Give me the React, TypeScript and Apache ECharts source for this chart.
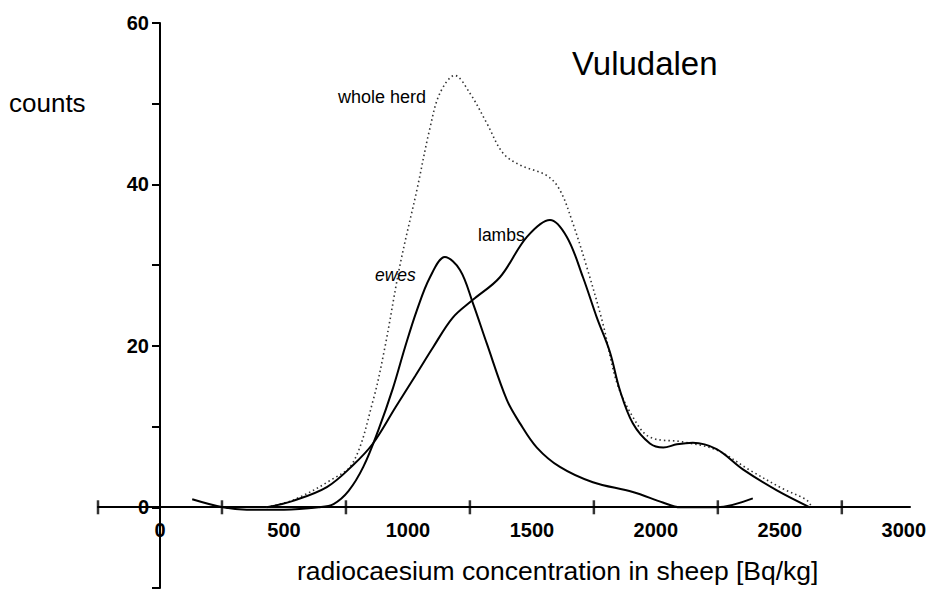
import React, { useEffect, useRef } from "react";
import * as echarts from "echarts";

// x: radiocaesium concentration [Bq/kg], y: counts
const wholeHerd: [number, number][] = [
  [430, 0], [537, 0.9], [685, 3.3], [778, 5.5], [860, 13.3], [907, 19.8], [968, 30],
  [1036, 39.3], [1089, 47], [1129, 51.3], [1189, 53.5], [1250, 51.3], [1318, 47.6],
  [1383, 43.9], [1452, 42.4], [1560, 41.1], [1613, 39.3], [1665, 35.2], [1722, 29.7],
  [1786, 22.8], [1843, 15.4], [1907, 11.2], [1975, 8.7], [2109, 8.1], [2245, 7.1],
  [2379, 4.6], [2512, 2.3], [2608, 0.9], [2629, 0],
];

const lambs: [number, number][] = [
  [430, 0], [537, 0.8], [673, 2.5], [778, 5.2], [859, 7.9], [950, 12.4], [1030, 16.3],
  [1101, 19.8], [1181, 23.5], [1262, 25.7], [1371, 28.5], [1480, 33.5], [1573, 35.6],
  [1641, 33.5], [1706, 28.5], [1762, 23.5], [1814, 19.3], [1855, 14.5], [1907, 10.4],
  [1976, 7.9], [2030, 7.4], [2085, 7.8], [2149, 8.0], [2245, 7.2], [2351, 4.7],
  [2488, 2.1], [2621, 0],
];

const ewes: [number, number][] = [
  [130, 1.0], [254, 0], [350, -0.3], [500, -0.3], [640, 0], [700, 0.4], [760, 2],
  [820, 5], [880, 9.5], [940, 14.8], [988, 19.8], [1036, 24.4], [1089, 28.5], [1149, 31],
  [1210, 29.4], [1262, 25.3], [1318, 20.3], [1399, 13.3], [1452, 10.4], [1520, 7.4],
  [1613, 5.0], [1746, 3.1], [1907, 1.9], [2028, 0.6], [2097, 0], [2245, 0], [2391, 1.1],
];

const xTickMarks: number[] = [-250, 250, 750, 1250, 1750, 2250, 2750];
const xLabelValues: number[] = [0, 500, 1000, 1500, 2000, 2500, 3000];
const yLabelValues: number[] = [0, 20, 40, 60];

const FONT = "'Liberation Sans', Arial, Helvetica, sans-serif";

export default function App() {
  const ref = useRef<HTMLDivElement>(null);

  useEffect(() => {
    document.body.style.margin = "0";
    if (!ref.current) return;
    const chart = echarts.init(ref.current, null, { renderer: "svg" });
    chart.setOption({
      animation: false,
      backgroundColor: "#ffffff",
      grid: { left: 98, right: 26, top: 23, bottom: 7, containLabel: false },
      xAxis: {
        type: "value",
        min: -250,
        max: 3025,
        interval: 250,
        position: "bottom",
        offset: -81,
        axisLine: { onZero: false, lineStyle: { color: "#000", width: 2 } },
        axisTick: { show: false },
        splitLine: { show: false },
        axisLabel: {
          margin: 13,
          color: "#000",
          fontFamily: FONT,
          fontWeight: "bold",
          fontSize: 20,
          showMinLabel: true,
          showMaxLabel: true,
          formatter: (v: number) => (xLabelValues.indexOf(v) >= 0 ? String(v) : ""),
        },
      },
      yAxis: {
        type: "value",
        min: -10,
        max: 60,
        interval: 10,
        position: "left",
        offset: -62,
        axisLine: { onZero: false, lineStyle: { color: "#000", width: 2 } },
        axisTick: { show: true, length: 8, lineStyle: { color: "#000", width: 2 } },
        splitLine: { show: false },
        axisLabel: {
          margin: 11,
          color: "#000",
          fontFamily: FONT,
          fontWeight: "bold",
          fontSize: 20,
          formatter: (v: number) => (yLabelValues.indexOf(v) >= 0 ? String(v) : ""),
        },
      },
      series: [
        {
          type: "line",
          name: "whole herd",
          data: wholeHerd,
          smooth: 0.35,
          showSymbol: false,
          lineStyle: { color: "#333", width: 1.6, type: [1.5, 3] },
          z: 3,
        },
        {
          type: "line",
          name: "lambs",
          data: lambs,
          smooth: 0.35,
          showSymbol: false,
          lineStyle: { color: "#000", width: 2 },
          z: 4,
        },
        {
          type: "line",
          name: "ewes",
          data: ewes,
          smooth: 0.35,
          showSymbol: false,
          lineStyle: { color: "#000", width: 2 },
          z: 4,
        },
        {
          type: "scatter",
          name: "ticks",
          data: xTickMarks.map((v) => [v, 0]),
          symbol: "rect",
          symbolSize: [2.5, 14],
          itemStyle: { color: "#000" },
          z: 5,
          silent: true,
        },
      ],
      graphic: [
        {
          type: "text",
          x: 9,
          y: 103,
          style: { text: "counts", fill: "#000", font: `26px ${FONT}`, textVerticalAlign: "middle" },
        },
        {
          type: "text",
          x: 572,
          y: 63,
          style: { text: "Vuludalen", fill: "#000", font: `33px ${FONT}`, textVerticalAlign: "middle" },
        },
        {
          type: "text",
          x: 297,
          y: 571,
          style: {
            text: "radiocaesium concentration in sheep [Bq/kg]",
            fill: "#000",
            font: `26.5px ${FONT}`,
            textVerticalAlign: "middle",
          },
        },
        {
          type: "text",
          x: 338,
          y: 97,
          style: { text: "whole herd", fill: "#000", font: `18px ${FONT}`, textVerticalAlign: "middle" },
        },
        {
          type: "text",
          x: 478,
          y: 235,
          style: { text: "lambs", fill: "#000", font: `17.5px ${FONT}`, textVerticalAlign: "middle" },
        },
        {
          type: "text",
          x: 375,
          y: 275,
          style: { text: "ewes", fill: "#000", font: `italic 17.5px ${FONT}`, textVerticalAlign: "middle" },
        },
      ],
    });
    return () => chart.dispose();
  }, []);

  return <div ref={ref} style={{ width: 936, height: 595 }} />;
}
